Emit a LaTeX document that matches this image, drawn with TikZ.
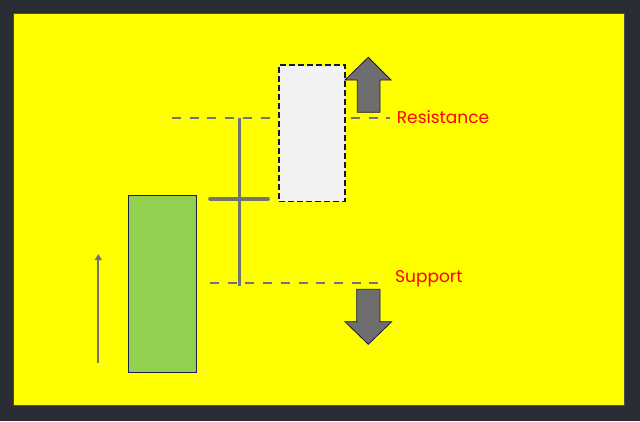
\documentclass[tikz,border=0pt]{standalone}
\usepackage{fontspec}
\usetikzlibrary{arrows.meta}
\newfontfamily\labelfont{Poppins}
\definecolor{bgdark}{HTML}{2A2D33}
\definecolor{panelyellow}{HTML}{FFFF00}
\definecolor{candlegreen}{HTML}{92D050}
\definecolor{linegray}{HTML}{737373}
\definecolor{arrowgray}{HTML}{6E6E6E}
\definecolor{navy}{HTML}{1F1F4F}
\definecolor{textred}{HTML}{FF0000}
\begin{document}
\begin{tikzpicture}[x=1pt,y=-1pt,
  levelline/.style={draw=linegray,line width=2.3pt,dash pattern=on 9pt off 8.7pt},
  wickline/.style={draw=linegray,line width=3.6pt},
  bigarrow/.style={fill=arrowgray,draw=navy!80!black,line width=0.8pt,line join=miter},
  labeltext/.style={text=textred,font=\labelfont\fontsize{17}{20}\selectfont,inner sep=0pt,anchor=base west}]
\useasboundingbox (0,0) rectangle (640,421);
\fill[bgdark] (0,0) rectangle (640,421);
\node[draw=black!70,line width=0.8pt,fill=panelyellow,inner sep=0pt,minimum width=611pt,minimum height=392pt,anchor=north west] (panel) at (13,13) {};
% green candle
\node[draw=navy,line width=0.9pt,fill=candlegreen,inner sep=0pt,minimum width=68pt,minimum height=177pt,anchor=north west] (green) at (128.3,194.7) {};
% trend arrow
\coordinate (ta) at (98.3,363);
\coordinate (tb) at (98.3,254);
\draw[linegray,line width=2.2pt,-{Triangle[length=6pt,width=7pt]}] (ta) -- (tb);
% level lines
\coordinate (r1) at (172,117.7);
\coordinate (r2) at (272,117.7);
\coordinate (r3) at (351,117.7);
\coordinate (r4) at (390,117.7);
\draw[levelline] (r1) -- (r2);
\draw[levelline] (r3) -- (r4);
\coordinate (s1) at (210,283.3);
\coordinate (s2) at (381,283.3);
\draw[levelline] (s1) -- (s2);
% cross candle
\coordinate (v1) at (239.3,117.7);
\coordinate (v2) at (239.3,286);
\coordinate (h1) at (210,199);
\coordinate (h2) at (268,199);
\draw[wickline] (v1) -- (v2);
\draw[wickline,line cap=round] (h1) -- (h2);
% dashed candle
\node[draw=navy!70!black,fill=black!5,line width=1.5pt,dash pattern=on 6pt off 3pt,inner sep=0pt,minimum width=66pt,minimum height=136.4pt,anchor=north west] (light) at (278.3,64.3) {};
% up arrow
\draw[bigarrow] (357.3,112.3) -- (357.3,80) -- (345,80) -- (368.3,57.3) -- (391,80) -- (380,80) -- (380,112.3) -- cycle;
% down arrow
\draw[bigarrow] (356.7,289.3) -- (356.7,321.7) -- (345,321.7) -- (368.3,344.3) -- (391.7,321.7) -- (380,321.7) -- (380,289.3) -- cycle;
% labels
\node[labeltext] (res) at (396.7,123.3) {Resistance};
\node[labeltext] (sup) at (395,282.3) {Support};
\end{tikzpicture}
\end{document}
